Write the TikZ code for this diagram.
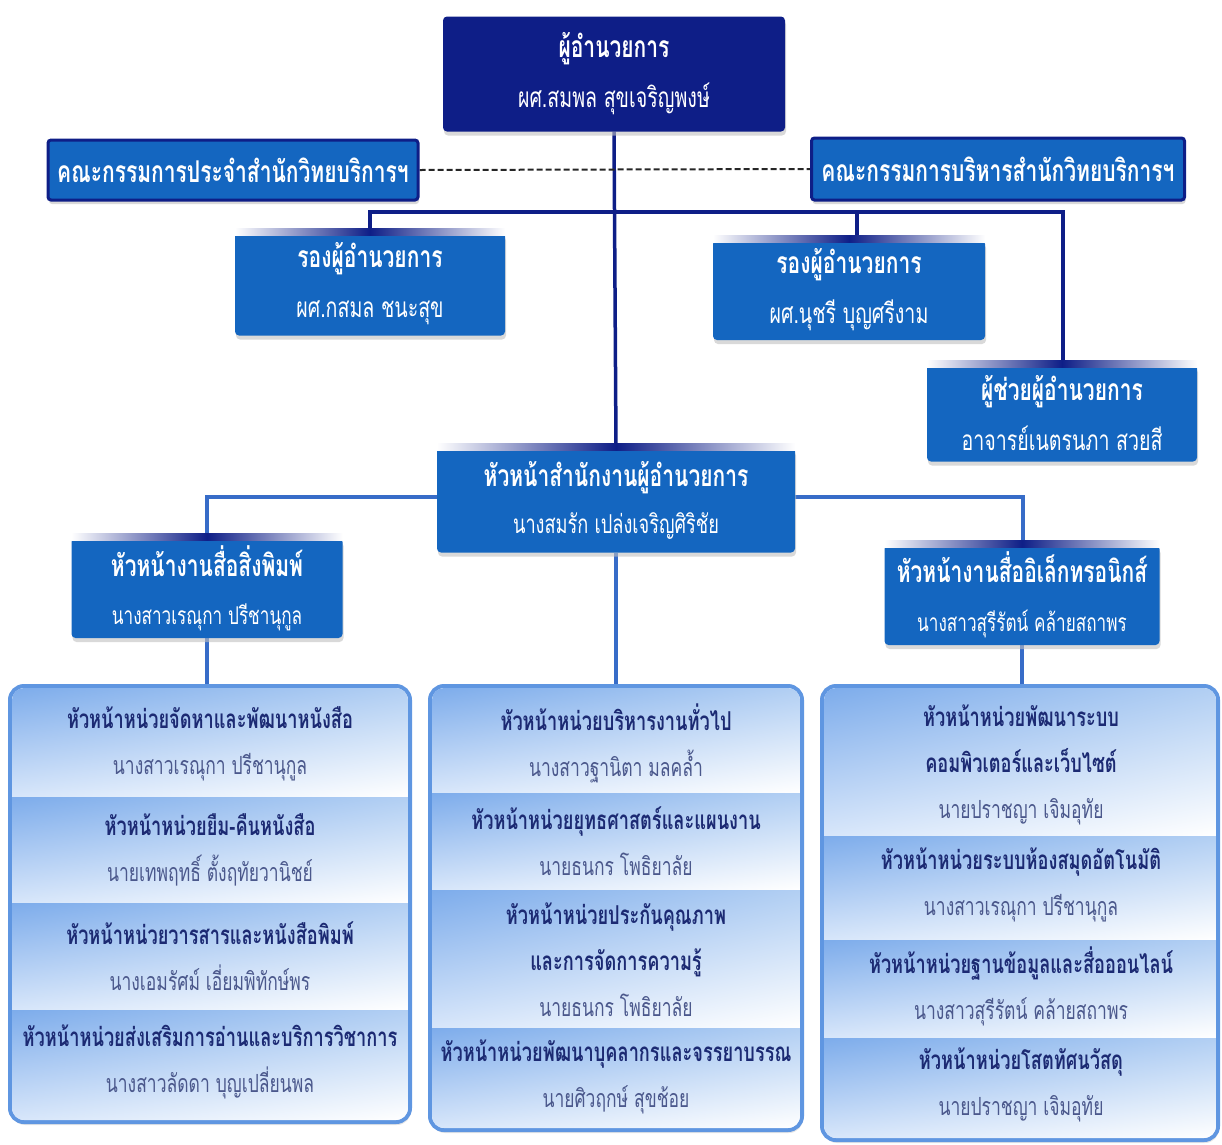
\documentclass[tikz,border=0pt]{standalone}
\usepackage{fontspec}
\newfontfamily\thai[Script=Thai,FakeStretch=0.70]{Loma}
\usetikzlibrary{shadows,backgrounds,shadings}
\definecolor{navy}{RGB}{14,30,135}
\definecolor{mblue}{RGB}{20,102,192}
\definecolor{lblue}{RGB}{55,108,200}
\definecolor{colborder}{RGB}{95,150,225}
\definecolor{titleC}{RGB}{28,42,115}
\definecolor{nameC}{RGB}{75,88,140}
\definecolor{sA}{RGB}{125,172,235}
\definecolor{sB}{RGB}{178,207,243}
\definecolor{sC}{RGB}{215,230,250}
\newcommand\topglow[1]{\shade[left color=white,right color=white,middle color=navy] ([yshift=4pt]#1.north west) rectangle ([yshift=-3pt]#1.north east);}
\newcommand\nm[1]{\fontsize{#1}{50}\selectfont}
\begin{document}
\begin{tikzpicture}[x=1pt,y=-1pt,
  boxshadow/.style={drop shadow={shadow xshift=1pt,shadow yshift=-4pt,fill=black!25,opacity=.6}},
  topbox/.style={rectangle,rounded corners=4pt,fill=mblue,text=white,align=center,inner sep=0pt,boxshadow,
    font=\thai\fontsize{26}{50}\selectfont},
  dirbox/.style={topbox,fill=navy},
  combox/.style={rectangle,rounded corners=3pt,fill=mblue,draw=navy,line width=3pt,text=white,inner sep=0pt,boxshadow,
    font=\thai\bfseries\fontsize{30}{34}\selectfont},
  colbox/.style={rectangle,rounded corners=14pt,fill=white,draw=colborder,line width=4pt,
    drop shadow={shadow xshift=1pt,shadow yshift=-3pt,fill=black!20,opacity=.5}},
  secshade/.style={upper left=sA,upper right=sB,lower left=sC,lower right=white},
  sec/.style={align=center,inner sep=0pt,text=nameC,font=\thai\fontsize{25}{46}\selectfont},
  navyline/.style={draw=navy,line width=3.5pt},
  blueline/.style={draw=lblue,line width=3.5pt}
]
\useasboundingbox (0,0) rectangle (1222,1144);

% ---- upper boxes
\node[dirbox,minimum width=342pt,minimum height=115pt,font=\thai\nm{28}] (dir) at (614,74)
  {{\bfseries\fontsize{30}{50}\selectfont ผู้อำนวยการ}\\ผศ.สมพล สุขเจริญพงษ์};
\node[combox,minimum width=370pt,minimum height=60pt] (comL) at (233,170) {คณะกรรมการประจำสำนักวิทยบริการฯ};
\node[combox,minimum width=373pt,minimum height=62pt] (comR) at (998,169) {คณะกรรมการบริหารสำนักวิทยบริการฯ};
\node[topbox,minimum width=270pt,minimum height=103pt,font=\thai\nm{28}] (depL) at (370,284)
  {{\bfseries\fontsize{30}{50}\selectfont รองผู้อำนวยการ}\\ผศ.กสมล ชนะสุข};
\node[topbox,minimum width=272pt,minimum height=100pt,font=\thai\nm{28}] (depR) at (849,290)
  {{\bfseries\fontsize{30}{50}\selectfont รองผู้อำนวยการ}\\ผศ.นุชรี บุญศรีงาม};
\node[topbox,minimum width=270pt,minimum height=97pt,font=\thai\nm{28}] (asst) at (1062,413)
  {{\bfseries\fontsize{30}{50}\selectfont ผู้ช่วยผู้อำนวยการ}\\อาจารย์เนตรนภา สวยสี};
\node[topbox,minimum width=358pt,minimum height=105pt,font=\thai\fontsize{26}{47}\selectfont] (office) at (616,500)
  {{\bfseries\fontsize{30}{47}\selectfont หัวหน้าสำนักงานผู้อำนวยการ}\\นางสมรัก เปล่งเจริญศิริชัย};
\node[topbox,minimum width=271pt,minimum height=100pt,font=\thai\fontsize{24.5}{48}\selectfont] (print) at (207,588)
  {{\bfseries\fontsize{30}{48}\selectfont หัวหน้างานสื่อสิ่งพิมพ์}\\นางสาวเรณุกา ปรีชานุกูล};
\node[topbox,minimum width=275pt,minimum height=100pt,font=\thai\fontsize{24.5}{49}\selectfont] (elec) at (1022,595)
  {{\bfseries\fontsize{30}{49}\selectfont หัวหน้างานสื่ออิเล็กทรอนิกส์}\\นางสาวสุรีรัตน์ คล้ายสถาพร};
\topglow{depL}
\topglow{depR}
\topglow{asst}
\topglow{office}
\topglow{print}
\topglow{elec}

% ---- columns
\node[colbox,minimum width=400pt,minimum height=436pt] (colL) at (210,904) {};
\node[colbox,minimum width=372pt,minimum height=444pt] (colM) at (616,908) {};
\node[colbox,minimum width=396pt,minimum height=454pt] (colR) at (1020,913) {};

\begin{scope}
  \clip[rounded corners=12pt] (12,688) rectangle (408,1120);
  \shade[secshade] (12,688) rectangle (408,797);
  \shade[secshade] (12,797) rectangle (408,903);
  \shade[secshade] (12,903) rectangle (408,1010);
  \shade[secshade] (12,1010) rectangle (408,1120);
\end{scope}
\begin{scope}
  \clip[rounded corners=12pt] (432,688) rectangle (800,1128);
  \shade[secshade] (432,688) rectangle (800,793);
  \shade[secshade] (432,793) rectangle (800,890);
  \shade[secshade] (432,890) rectangle (800,1028);
  \shade[secshade] (432,1028) rectangle (800,1128);
\end{scope}
\begin{scope}
  \clip[rounded corners=12pt] (824,688) rectangle (1216,1138);
  \shade[secshade] (824,688) rectangle (1216,836);
  \shade[secshade] (824,836) rectangle (1216,940);
  \shade[secshade] (824,940) rectangle (1216,1038);
  \shade[secshade] (824,1038) rectangle (1216,1138);
\end{scope}

% ---- section texts
\node[sec] (L1) at (210,744) {{\bfseries\color{titleC}\fontsize{26}{46}\selectfont หัวหน้าหน่วยจัดหาและพัฒนาหนังสือ}\\นางสาวเรณุกา ปรีชานุกูล};
\node[sec] (L2) at (210,850) {{\bfseries\color{titleC}\fontsize{26}{46}\selectfont หัวหน้าหน่วยยืม-คืนหนังสือ}\\นายเทพฤทธิ์ ตั้งฤทัยวานิชย์};
\node[sec] (L3) at (210,956) {{\bfseries\color{titleC}\fontsize{26}{46}\selectfont หัวหน้าหน่วยวารสารและหนังสือพิมพ์}\\นางเอมรัศม์ เอี่ยมพิทักษ์พร};
\node[sec] (L4) at (210,1062) {{\bfseries\color{titleC}\fontsize{26}{46}\selectfont หัวหน้าหน่วยส่งเสริมการอ่านและบริการวิชาการ}\\นางสาวลัดดา บุญเปลี่ยนพล};

\node[sec] (M1) at (616,743) {{\bfseries\color{titleC}\fontsize{26}{46}\selectfont หัวหน้าหน่วยบริหารงานทั่วไป}\\นางสาวฐานิตา มลคล้ำ};
\node[sec] (M2) at (616,841) {{\bfseries\color{titleC}\fontsize{26}{46}\selectfont หัวหน้าหน่วยยุทธศาสตร์และแผนงาน}\\นายธนกร โพธิยาลัย};
\node[sec] (M3) at (616,960) {{\bfseries\color{titleC}\fontsize{26}{46}\selectfont หัวหน้าหน่วยประกันคุณภาพ}\\{\bfseries\color{titleC}\fontsize{26}{46}\selectfont และการจัดการความรู้}\\นายธนกร โพธิยาลัย};
\node[sec] (M4) at (616,1077) {{\bfseries\color{titleC}\fontsize{26}{46}\selectfont หัวหน้าหน่วยพัฒนาบุคลากรและจรรยาบรรณ}\\นายศิวฤกษ์ สุขช้อย};

\node[sec] (R1) at (1021,765) {{\bfseries\color{titleC}\fontsize{26}{46}\selectfont หัวหน้าหน่วยพัฒนาระบบ}\\{\bfseries\color{titleC}\fontsize{26}{46}\selectfont คอมพิวเตอร์และเว็บไซต์}\\นายปราชญา เจิมอุทัย};
\node[sec] (R2) at (1021,885) {{\bfseries\color{titleC}\fontsize{26}{46}\selectfont หัวหน้าหน่วยระบบห้องสมุดอัตโนมัติ}\\นางสาวเรณุกา ปรีชานุกูล};
\node[sec] (R3) at (1021,986) {{\bfseries\color{titleC}\fontsize{26}{46}\selectfont หัวหน้าหน่วยฐานข้อมูลและสื่อออนไลน์}\\นางสาวสุรีรัตน์ คล้ายสถาพร};
\node[sec] (R4) at (1021,1085) {{\bfseries\color{titleC}\fontsize{26}{46}\selectfont หัวหน้าหน่วยโสตทัศนวัสดุ}\\นายปราชญา เจิมอุทัย};

% ---- connectors
\coordinate (hL) at (370,212);
\coordinate (hM) at (857,212);
\coordinate (hR) at (1063,212);
\coordinate (lowL) at (207,497);
\coordinate (lowR) at (1023,497);
\begin{pgfonlayer}{background}
  \draw[navyline] (dir.south) -- (office.north);
  \draw[navyline] (hL |- depL.north) -- (hL) -- (hR) -- (hR |- asst.north);
  \draw[navyline] (hM) -- (hM |- depR.north);
  \draw[dash pattern=on 6pt off 3pt,line width=2pt,black!85] (comL.east) -- (comR.west);
  \draw[blueline] (lowL |- print.north) -- (lowL) -- (lowR) -- (lowR |- elec.north);
  \draw[blueline] (print.south) -- (print.south |- colL.north);
  \draw[blueline] (office.south) -- (office.south |- colM.north);
  \draw[blueline] (elec.south) -- (elec.south |- colR.north);
\end{pgfonlayer}
\end{tikzpicture}
\end{document}
